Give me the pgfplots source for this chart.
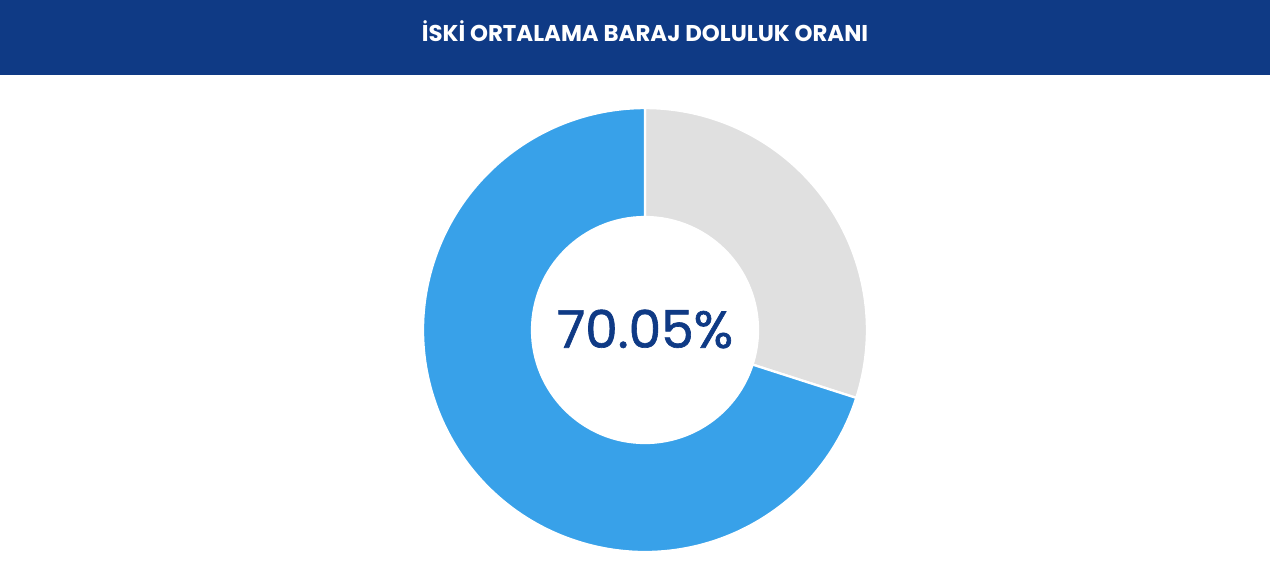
\documentclass[border=0pt]{standalone}
\usepackage{fontspec}
\setmainfont{Poppins}
\newfontfamily\numfont{Poppins}[FakeBold=1.2]
\usepackage{pgfplots}
\usepackage{pgfplotstable}
\pgfplotsset{compat=1.18}
\usetikzlibrary{calc}
\definecolor{hdr}{HTML}{0F3A85}
\definecolor{full}{HTML}{38A1E9}
\definecolor{empty}{HTML}{E0E0E0}

\pgfplotstableread{
label value
Dolu  70.05
Bos   29.95
}\donutdata

\begin{document}
\begin{tikzpicture}
\pgfplotstablegetelem{0}{value}\of\donutdata
\let\fullval\pgfplotsretval
\pgfplotstablegetelem{1}{value}\of\donutdata
\let\emptyval\pgfplotsretval
% both parts run clockwise from 12 o'clock: first the empty share, then the full one
\pgfmathsetmacro{\aend}{90-3.6*\emptyval}
\pgfmathsetmacro{\bend}{\aend-3.6*\fullval}
\def\Rout{4.44cm}
\def\Rin{2.26cm}
\begin{axis}[
  x=0.02cm, y=0.02cm,
  xmin=0, xmax=1270, ymin=0, ymax=604,
  y dir=reverse,
  hide axis,
  clip=false,
]
\fill[hdr] (axis cs:0,0) rectangle (axis cs:1270,75);
\node[text=white, font=\fontsize{13}{15}\selectfont\bfseries] at (axis cs:645,31) {İSKİ ORTALAMA BARAJ DOLULUK ORANI};
\coordinate (c) at (axis cs:645,330);
% empty share
\filldraw[fill=empty, draw=white, line width=1.3pt]
  ($(c)+(90:\Rout)$) arc[start angle=90, end angle=\aend, radius=\Rout]
  -- ($(c)+(\aend:\Rin)$) arc[start angle=\aend, end angle=90, radius=\Rin] -- cycle;
% full share
\filldraw[fill=full, draw=white, line width=1.3pt]
  ($(c)+(\aend:\Rout)$) arc[start angle=\aend, end angle=\bend, radius=\Rout]
  -- ($(c)+(\bend:\Rin)$) arc[start angle=\bend, end angle=\aend, radius=\Rin] -- cycle;
\node[text=hdr, font=\numfont\fontsize{29.5}{36}\selectfont] at (axis cs:645,329) {\fullval\%};
\end{axis}
\end{tikzpicture}
\end{document}
